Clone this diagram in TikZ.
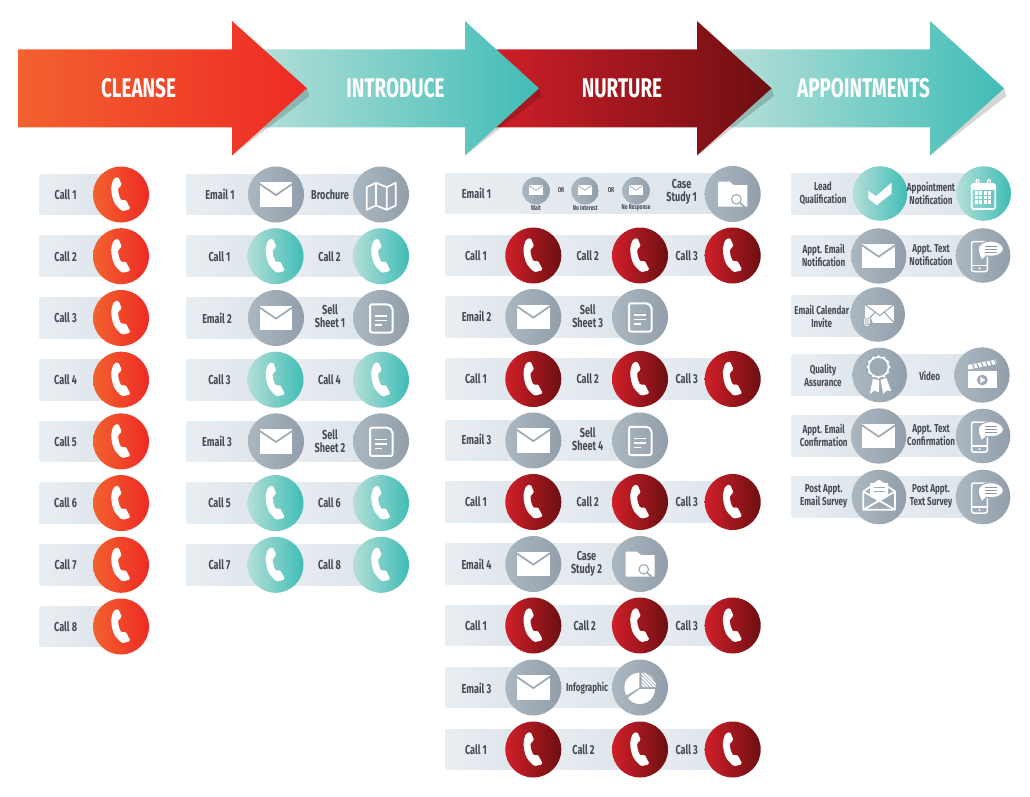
\documentclass[tikz,border=0pt]{standalone}
\usepackage{fontspec}
\setmainfont[FakeStretch=0.7]{Fira Sans}
\usetikzlibrary{calc}
\definecolor{txt}{HTML}{454A56}
\definecolor{gl}{HTML}{ABB7C0}\definecolor{gr}{HTML}{929FAB}
\definecolor{gm}{HTML}{9DA9B4}
\tikzset{
 lbl/.style={font=\bfseries\fontsize{13}{13}\selectfont,text=txt,align=center,inner sep=0pt},
 lbls/.style={font=\bfseries\fontsize{11.5}{13}\selectfont,text=txt,align=center,inner sep=0pt},
 tiny/.style={font=\bfseries\fontsize{7}{7}\selectfont,text=txt,inner sep=0pt},
 title/.style={font=\bfseries\fontsize{27}{28}\selectfont,text=white,inner sep=0pt},
 grayd/.style={left color=gl,right color=gr},
 orgd/.style={left color=F1,right color=F2},
 teald/.style={left color=T1,right color=T2},
 redd/.style={left color=R1,right color=R2},
 barfill/.style={left color=B1,right color=B2},
 shadowp/.style={fill=black,opacity=.16},
 wl/.style={draw=white,line width=1.7pt,line join=round},
}
\definecolor{F1}{HTML}{F2622F}\definecolor{F2}{HTML}{EE2A24}
\definecolor{T1}{HTML}{B4DFD8}\definecolor{T2}{HTML}{3FBDB6}
\definecolor{R1}{HTML}{D11F29}\definecolor{R2}{HTML}{6C0F12}
\definecolor{B1}{HTML}{E9EEF2}\definecolor{B2}{HTML}{DCE4EA}
\newcounter{nn}
\newcommand\lab[4][lbl]{\stepcounter{nn}\node[#1] (t\thenn) at (#2,#3) {#4};}
\newcommand\disc[4]{\shade[#1] (#2,#3) circle (#4);}
\newcommand\seg[3]{\shade[barfill] ({#1},{#3-20.3}) rectangle ({#2},{#3+20.3});}
\newcommand\icphone[2]{\fill[white,rounded corners=1.6pt,shift={(#1,#2)}]
 (-2.7,-17.8) -- (-7.5,-15.8) -- (-9.8,-8) .. controls (-9.8,-2) and (-8.5,5) .. (-5.5,10) -- (1,16.8) -- (9.6,14.6)
 -- (4.5,4.8) -- (0.7,6.5) .. controls (-2,2) and (-3,-3) .. (-2.7,-7) -- (1,-9) -- cycle;}
\newcommand\icmail[3][1]{\begin{scope}[shift={(#2,#3)},scale=#1]
 \fill[white] (-16.3,-12.3) rectangle (16.3,12.3);
 \draw[gm,line width=#1*1.7pt] (-17,-11) -- (0,0.6) -- (17,-11);
 \end{scope}}
\newcommand\icmap[2]{\draw[wl,shift={(#1,#2)}] (-14.3,-8.3) -- (-5,-12.7) -- (5.7,-8.3) -- (14.7,-12.7) -- (14.7,10) -- (5.7,14.3) -- (-5,10) -- (-14.3,14.3) -- cycle (-5,-12.7) -- (-5,10) (5.7,-8.3) -- (5.7,14.3);}
\newcommand\icdoc[2]{\begin{scope}[shift={(#1,#2)}]
 \draw[wl,line width=2pt,rounded corners=2pt] (-11,-13.7) -- (8,-13.7) -- (11.5,-10.5) -- (11.5,14.5) -- (-11,14.5) -- cycle;
 \draw[white,line width=1.6pt] (-6,-2) -- (6,-2) (-6,2.5) -- (6,2.5) (-6,7) -- (1,7);
 \end{scope}}
\newcommand\icfolder[2]{\begin{scope}[shift={(#1,#2)}]
 \fill[white] (-14.5,-12.3) -- (-3,-12.3) -- (1,-9) -- (14.7,-9) -- (14.7,12.7) -- (-14.5,12.7) -- cycle;
 \draw[gm,line width=1.1pt,fill=white] (3.7,5.3) circle (4.8);
 \draw[gm,line width=1.7pt] (7.2,8.8) -- (12,13);
 \end{scope}}
\newcommand\iccheck[2]{\fill[white,shift={(#1,#2)}] (-11.7,-2.7) -- (-4,2.7) -- (11.7,-11) -- (11.7,0) -- (-3.3,11.7) -- (-11.7,5) -- cycle;}
\newcommand\iccal[2]{\begin{scope}[shift={(#1,#2)}]
 \draw[white,line width=1.6pt,rounded corners=1.5pt] (-12,-9.5) rectangle (11.5,15.5);
 \fill[white] (-12,-9.5) rectangle (11.5,-4);
 \draw[white,line width=1.3pt,rounded corners=1pt] (-7.5,-8) -- (-7.5,-14) -- (-5,-14) -- (-5,-8) (4,-8) -- (4,-14) -- (6.5,-14) -- (6.5,-8);
 \foreach \cx in {-7.5,-3,1.5,6}{\foreach \cy in {-0.5,4,8.5}{\fill[white] (\cx-1.7,\cy-1.7) rectangle (\cx+1.7,\cy+1.7);}}
 \end{scope}}
\newcommand\icsms[2]{\begin{scope}[shift={(#1,#2)}]
 \draw[white,line width=1.5pt,rounded corners=2pt] (-11.3,-14) rectangle (4.3,16);
 \draw[white,line width=1.3pt] (-11.3,10) -- (4.3,10);
 \fill[white] (-3.5,13) circle (1.1);
 \fill[white,draw=gm,line width=1.1pt] (-3,1) -- (-1.5,5) -- (3.5,0.5) .. controls (13,2) and (20.5,-2) .. (20.5,-6.5) .. controls (20.5,-11) and (14,-14.5) .. (7.7,-14.5) .. controls (1,-14.5) and (-5,-11) .. (-5,-6.5) .. controls (-5,-3.5) and (-4,-1) .. (-3,1) -- cycle;
 \draw[gm!90!black,line width=.8pt] (1.5,-9.5) -- (14,-9.5) (1.5,-6.5) -- (14,-6.5) (1.5,-3.5) -- (14,-3.5);
 \end{scope}}
\newcommand\icat[2]{\begin{scope}[shift={(#1,#2)}]
 \fill[white] (-12.7,-10) rectangle (16.7,8.5);
 \draw[gm,line width=1.1pt] (-12.7,-10) -- (2,1) -- (16.7,-10) (-12.7,8.5) -- (-2,-3) (16.7,8.5) -- (6,-3);
 \fill[gm] (-10.5,8) circle (5.5);
 \stepcounter{nn}\node[inner sep=0pt,text=white,font=\bfseries\fontsize{10}{10}\selectfont] (t\thenn) at (-10.5,7.6) {@};
 \end{scope}}
\newcommand\icrib[2]{\begin{scope}[shift={(#1,#2)}]
 \fill[white] (-6,0) -- (-10,19) -- (-5.5,15.5) -- (-1,17.5) -- (-0.5,4) -- cycle;
 \fill[white] (0.8,4) -- (3.5,19) -- (7,15.5) -- (11.5,16) -- (5.5,0) -- cycle;
 \fill[gm] (-1.2,-8) circle (13);
 \draw[white,line width=1.6pt] (-1.2,-8) circle (10);
 \foreach \a in {0,30,...,330}{\fill[white] ($(-1.2,-8)+(\a:10.6)$) circle (1.6);}
 \fill[gm] (-1.2,-8) circle (8.3);
 \end{scope}}
\newcommand\icclap[2]{\begin{scope}[shift={(#1,#2)}]
 \fill[white] (-13.7,-4) rectangle (14.7,13.3);
 \fill[white] (-13.7,-5.5) -- (-14.2,-10) -- (14,-15.5) -- (14.7,-11) -- cycle;
 \foreach \k in {0,1,...,5}{\draw[gm,line width=1.2pt] ({-9.5+\k*4.4},{-10.8-\k*.86}) -- ({-7.6+\k*4.4},{-6.3-\k*.86});}
 \fill[gm] (0.3,5) circle (5.4);
 \fill[white] (-1.6,1.9) -- (3.3,5) -- (-1.6,8.1) -- cycle;
 \end{scope}}
\newcommand\icopen[2]{\begin{scope}[shift={(#1,#2)}]
 \draw[wl,line width=1.8pt] (-15.7,-5.5) -- (0,-16.3) -- (16,-5.5) -- (16,12.7) -- (-15.7,12.7) -- cycle;
 \draw[wl,line width=1.8pt] (-15.7,-5.5) -- (16,12.7) (16,-5.5) -- (-15.7,12.7);
 \fill[white] (-9,-14) -- (-2,-14) -- (0,-16) -- (2,-14) -- (9,-14) -- (9,-1) -- (0,4) -- (-9,-1) -- cycle;
 \draw[gm,line width=1pt] (-5.5,-9.5) -- (5.5,-9.5) (-5.5,-6) -- (5.5,-6);
 \end{scope}}
\newcommand\icpie[2]{\begin{scope}[shift={(#1,#2)}]
 \fill[white] (-0.6,-0.3) -- ++(-90:15) arc (-90:-210:15) -- cycle;
 \fill[white] (0,1) -- ++(-216:15) arc (-216:-360:15) -- cycle;
 \begin{scope}
 \clip (1.5,-1) -- ++(-90:14.5) arc (-90:0:14.5) -- cycle;
 \foreach \k in {0,3.6,...,36}{\draw[white,line width=1.6pt] (\k-19,-17) -- (\k-1,1);}
 \end{scope}
 \end{scope}}
\begin{document}
\begin{tikzpicture}[x=1pt,y=-1pt]
\useasboundingbox (0,0) rectangle (1030,797);
% arrows, back to front
\shade[left color=T1,right color=T2] (730,49.5) -- (930,49.5) -- (930,21) -- (1004,88.3) -- (930,155.5) -- (930,127.5) -- (730,127.5) -- cycle;
\fill[shadowp] (1004,88.3) -- (1006.5,96) -- (930,155.5) -- cycle;
\fill[shadowp] (771.5,88.3) -- (774,96) -- (697,155.5) -- cycle;
\shade[left color=R1,right color=R2] (490,49.5) -- (697,49.5) -- (697,21) -- (771.5,88.3) -- (697,155.5) -- (697,127.5) -- (490,127.5) -- cycle;
\fill[shadowp] (539,88.3) -- (541.5,96) -- (465,155.5) -- cycle;
\shade[left color=T1,right color=T2] (255,49.5) -- (465,49.5) -- (465,21) -- (539,88.3) -- (465,155.5) -- (465,127.5) -- (255,127.5) -- cycle;
\fill[shadowp] (307,88.3) -- (309.5,96) -- (232,155.5) -- cycle;
\shade[left color=F1,right color=F2] (18,49.5) -- (232,49.5) -- (232,21) -- (307,88.3) -- (232,155.5) -- (232,127.5) -- (18,127.5) -- cycle;
\lab[title]{138.5}{88.5}{CLEANSE}
\lab[title]{395.5}{88.5}{INTRODUCE}
\lab[title]{622}{88.5}{NURTURE}
\lab[title]{863.5}{88.5}{APPOINTMENTS}
% column 1
\foreach \n/\y in {1/194.5,2/256.2,3/318,4/379.7,5/441.4,6/503.1,7/564.8,8/626.5}{
 \seg{39.6}{121}{\y}
 \disc{orgd}{121}{\y}{28}
 \icphone{121}{\y}
 \lab{65.6}{\y}{Call \n}
}
% column 2
\foreach \y in {194.5,256.2,318,379.7,441.4,503.1,564.8}{\seg{186.3}{276}{\y}\seg{276}{381}{\y}}
\foreach \y/\k in {256.2/1,379.7/3,503.1/5,564.8/7}{
 \disc{teald}{275.5}{\y}{28}\disc{teald}{381}{\y}{28}
 \icphone{275.5}{\y}\icphone{381}{\y}
 \lab{219.5}{\y}{Call \k}
}
\lab{329.5}{256.2}{Call 2}\lab{329.5}{379.7}{Call 4}\lab{329.5}{503.1}{Call 6}\lab{329.5}{564.8}{Call 8}
\foreach \y in {194.5,318,441.4}{\disc{grayd}{276}{\y}{28}\disc{grayd}{381}{\y}{28}\icmail{276}{\y}}
\icmap{381}{195.5}\icdoc{381}{318}\icdoc{381}{441.4}
\lab{220}{194.5}{Email 1}\lab{330}{194.5}{Brochure}
\lab{217}{318}{Email 2}\lab{330}{316}{Sell\\Sheet 1}
\lab{217}{441.4}{Email 3}\lab{330}{441}{Sell\\Sheet 2}
% column 3
\seg{445.7}{732.7}{193.5}
\foreach \y in {255.5,379,502,625.5,749.5}{\seg{445.7}{533}{\y}\seg{533}{640}{\y}\seg{640}{732.7}{\y}
 \disc{redd}{533.3}{\y}{28}\disc{redd}{640}{\y}{28}\disc{redd}{732.7}{\y}{28}
 \icphone{533.3}{\y}\icphone{640}{\y}\icphone{732.7}{\y}
 \lab{476}{\y}{Call 1}\lab{686.7}{\y}{Call 3}
}
\lab{587.7}{255.5}{Call 2}\lab{587.7}{379}{Call 2}\lab{587.7}{502}{Call 2}\lab{584.7}{625.5}{Call 2}\lab{583.5}{749.5}{Call 2}
\foreach \y in {317,440.5,564,687.5}{\seg{445.7}{533}{\y}\seg{533}{640}{\y}\disc{grayd}{533.3}{\y}{28}\disc{grayd}{640}{\y}{28}\icmail{533.3}{\y}}
\icdoc{640}{317}\icdoc{640}{440.5}\icfolder{640}{564}\icpie{640}{688}
\foreach \x in {536,585,636}{\disc{grayd}{\x}{190.7}{13.8}\icmail[.42]{\x}{190}}
\disc{grayd}{732.7}{194}{28}\icfolder{732.7}{194}
\lab{476.5}{193}{Email 1}\lab{681.6}{192}{Case\\Study 1}
\lab[tiny]{561}{190.5}{OR}\lab[tiny]{611}{190.5}{OR}
\lab[tiny]{536}{208}{Wait}\lab[tiny]{585.3}{208}{No Interest}\lab[tiny]{636}{208}{No Response}
\lab{476.5}{316.5}{Email 2}\lab{587.7}{316.5}{Sell\\Sheet 3}
\lab{476.5}{439.5}{Email 3}\lab{587.7}{439.5}{Sell\\Sheet 4}
\lab{476.5}{564}{Email 4}\lab{586.5}{564}{Case\\Study 2}
\lab{476.5}{688}{Email 3}\lab[lbls]{587}{688}{Infographic}
% column 4
\foreach \y in {194,255.7,375,435.7,496.7}{\seg{791.7}{880}{\y}\seg{880}{983}{\y}}
\seg{791.7}{878}{315.7}
\disc{teald}{880}{193.5}{27.3}\disc{teald}{983.7}{193.5}{27.3}
\iccheck{880}{193.5}\iccal{983.7}{193.5}
\disc{grayd}{878.7}{256}{27.7}\disc{grayd}{983}{255.5}{27.3}\icmail{878.7}{256}\icsms{983}{255.5}
\disc{grayd}{877.7}{314.5}{27.3}\icat{877.7}{314.5}
\disc{grayd}{879.7}{375}{27.3}\disc{grayd}{982}{375}{27.7}\icrib{879.7}{375}\icclap{982}{375}
\disc{grayd}{878.7}{436}{27.7}\disc{grayd}{983}{436}{27.3}\icmail{878.7}{436}\icsms{983}{436}
\disc{grayd}{879}{497}{27.3}\disc{grayd}{983}{497}{27.3}\icopen{879}{497}\icsms{983}{497}
\lab[lbls]{823}{193.5}{Lead\\Qualification}\lab[lbls]{931}{193.5}{Appointment\\Notification}
\lab[lbls]{823.7}{255}{Appt. Email\\Notification}\lab[lbls]{931}{255}{Appt. Text\\Notification}
\lab[lbls]{821.7}{316}{Email Calendar\\Invite}
\lab[lbls]{823}{375}{Quality\\Assurance}\lab[lbls]{929.7}{376}{Video}
\lab[lbls]{823.7}{435}{Appt. Email\\Confirmation}\lab[lbls]{931}{435}{Appt. Text\\Confirmation}
\lab[lbls]{823.7}{496}{Post Appt.\\Email Survey}\lab[lbls]{931}{496}{Post Appt.\\Text Survey}
\end{tikzpicture}
\end{document}
